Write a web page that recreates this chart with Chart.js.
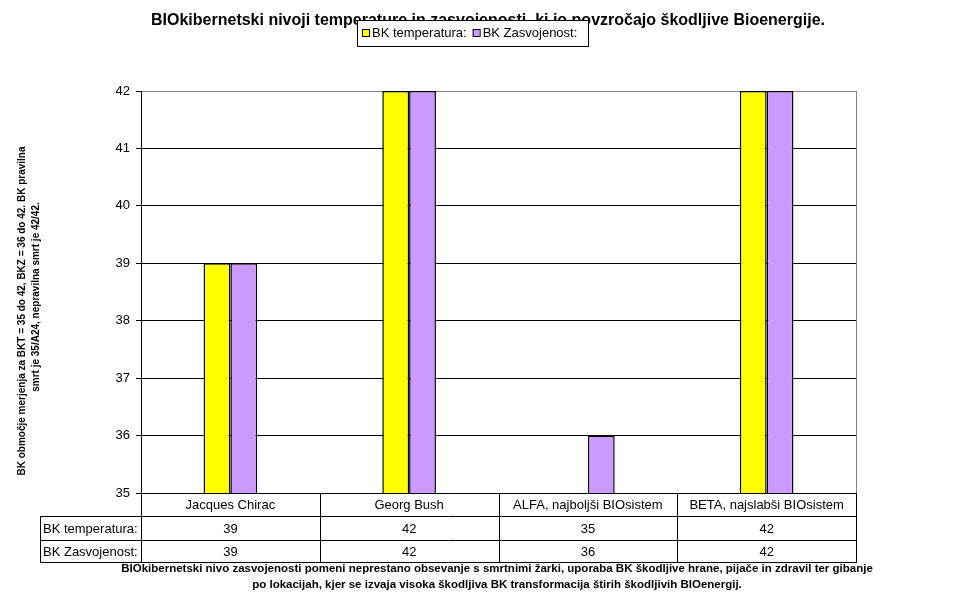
<!DOCTYPE html>
<html>
<head>
<meta charset="utf-8">
<script src="https://cdn.jsdelivr.net/npm/chart.js@4"></script>
<style>
  html, body { margin: 0; padding: 0; background: #fff; }
  #wrap { width: 977px; height: 600px; }
</style>
</head>
<body>
<div id="wrap"><canvas id="bk-chart" width="977" height="600"></canvas></div>
<script>
// === data ===
const categories = ['Jacques Chirac', 'Georg Bush', 'ALFA, najboljši BIOsistem', 'BETA, najslabši BIOsistem'];
const seriesNames = ['BK temperatura:', 'BK Zasvojenost:'];
const temperatura = [39, 42, 35, 42];
const zasvojenost = [39, 42, 36, 42];
const yMin = 35;
const yMax = 42;

const titleText = 'BIOkibernetski nivoji temperature in zasvojenosti, ki jo povzročajo škodljive Bioenergije.';
const yTitleLines = [
  'BK območje merjenja za BKT = 35 do 42, BKZ = 36 do 42. BK pravilna',
  'smrt je 35/A24, nepravilna smrt je 42/42.'
];
const footerLines = [
  'BIOkibernetski nivo zasvojenosti pomeni neprestano obsevanje s smrtnimi žarki, uporaba BK škodljive hrane, pijače in zdravil ter gibanje',
  'po lokacijah, kjer se izvaja visoka škodljiva BK transformacija štirih škodljivih BIOenergij.'
];

const FONT = '"Liberation Sans", Arial, sans-serif';

// draws title, legend, axis title, data table and footer note
const excelExtras = {
  id: 'excelExtras',
  afterDraw(chart) {
    const c = chart.ctx;
    const area = chart.chartArea;
    const xs = chart.scales.x;
    const ds = chart.data.datasets;
    const n = categories.length;
    const colW = (area.right - area.left) / n;

    c.save();

    // right border of plot area (grey)
    c.strokeStyle = '#808080';
    c.lineWidth = 1;
    c.beginPath();
    c.moveTo(area.right + 0.5, area.top);
    c.lineTo(area.right + 0.5, area.bottom);
    c.stroke();

    // title
    c.fillStyle = '#000';
    c.font = 'bold 16px ' + FONT;
    c.textAlign = 'center';
    c.textBaseline = 'middle';
    c.fillText(titleText, 488, 21);

    // legend box
    c.fillStyle = '#fff';
    c.fillRect(357, 20, 231, 26);
    c.strokeStyle = '#000';
    c.strokeRect(357.5, 20.5, 231, 26);
    c.font = '13px ' + FONT;
    c.textAlign = 'left';
    let lx = 362;
    ds.forEach(d => {
      c.fillStyle = d.backgroundColor;
      c.fillRect(lx, 29, 7, 7);
      c.strokeStyle = '#000';
      c.strokeRect(lx + 0.5, 29.5, 7, 7);
      c.fillStyle = '#000';
      c.fillText(d.label, lx + 10, 33);
      lx += 10 + c.measureText(d.label).width + 6;
    });

    // rotated y-axis title
    c.font = 'bold 10px ' + FONT;
    c.textAlign = 'center';
    c.fillStyle = '#000';
    [[22, 311], [36, 297]].forEach(([x, y], i) => {
      c.save();
      c.translate(x, y);
      c.rotate(-Math.PI / 2);
      c.fillText(yTitleLines[i], 0, 0);
      c.restore();
    });

    // data table
    const rowY = [area.bottom, 516, 540, 562];
    const leftX = 40;
    c.strokeStyle = '#000';
    c.lineWidth = 1;
    c.beginPath();
    c.moveTo(area.left, rowY[0] + 0.5); c.lineTo(area.right, rowY[0] + 0.5);
    for (let r = 1; r < rowY.length; r++) {
      c.moveTo(leftX, rowY[r] + 0.5);
      c.lineTo(area.right + 1, rowY[r] + 0.5);
    }
    c.moveTo(leftX + 0.5, rowY[1]); c.lineTo(leftX + 0.5, rowY[3]);
    for (let i = 0; i <= n; i++) {
      const x = Math.round(area.left + i * colW) + 0.5;
      c.moveTo(x, rowY[0]);
      c.lineTo(x, rowY[3] + 0.5);
    }
    c.stroke();

    c.font = '13px ' + FONT;
    c.fillStyle = '#000';
    c.textAlign = 'center';
    categories.forEach((cat, i) => {
      const cx = xs.getPixelForValue(i);
      c.fillText(cat, cx, (rowY[0] + rowY[1]) / 2 + 1);
      ds.forEach((d, j) => {
        c.fillText(String(d.data[i]), cx, (rowY[j + 1] + rowY[j + 2]) / 2 + 1);
      });
    });
    c.textAlign = 'left';
    ds.forEach((d, j) => {
      c.fillText(d.label, leftX + 3, (rowY[j + 1] + rowY[j + 2]) / 2 + 1);
    });

    // footer note
    c.font = 'bold 11.5px ' + FONT;
    c.textAlign = 'center';
    footerLines.forEach((t, i) => c.fillText(t, 497, 569 + i * 16));

    c.restore();
  }
};

const chart = new Chart(document.getElementById('bk-chart').getContext('2d'), {
  type: 'bar',
  data: {
    labels: categories,
    datasets: [
      {
        label: seriesNames[0],
        data: temperatura,
        backgroundColor: '#FFFF00',
        borderColor: '#000',
        borderWidth: 1.5
      },
      {
        label: seriesNames[1],
        data: zasvojenost,
        backgroundColor: '#CC99FF',
        borderColor: '#000',
        borderWidth: 1.5
      }
    ]
  },
  options: {
    responsive: false,
    animation: false,
    layout: { padding: { left: 0, right: 121, top: 91, bottom: 107 } },
    datasets: { bar: { categoryPercentage: 0.3, barPercentage: 1 } },
    plugins: {
      legend: { display: false },
      title: { display: false },
      tooltip: { enabled: false }
    },
    scales: {
      x: { display: false },
      y: {
        min: yMin,
        max: yMax,
        afterFit: s => { s.width = 141; },
        ticks: {
          stepSize: 1,
          color: '#000',
          padding: 6,
          font: { family: FONT, size: 13 }
        },
        grid: {
          color: ctx => (ctx.tick && ctx.tick.value === yMax ? '#808080' : '#000'),
          tickColor: '#000',
          tickLength: 5,
          lineWidth: 1
        },
        border: { color: '#000', width: 1 }
      }
    }
  },
  plugins: [excelExtras]
});
</script>
</body>
</html>
